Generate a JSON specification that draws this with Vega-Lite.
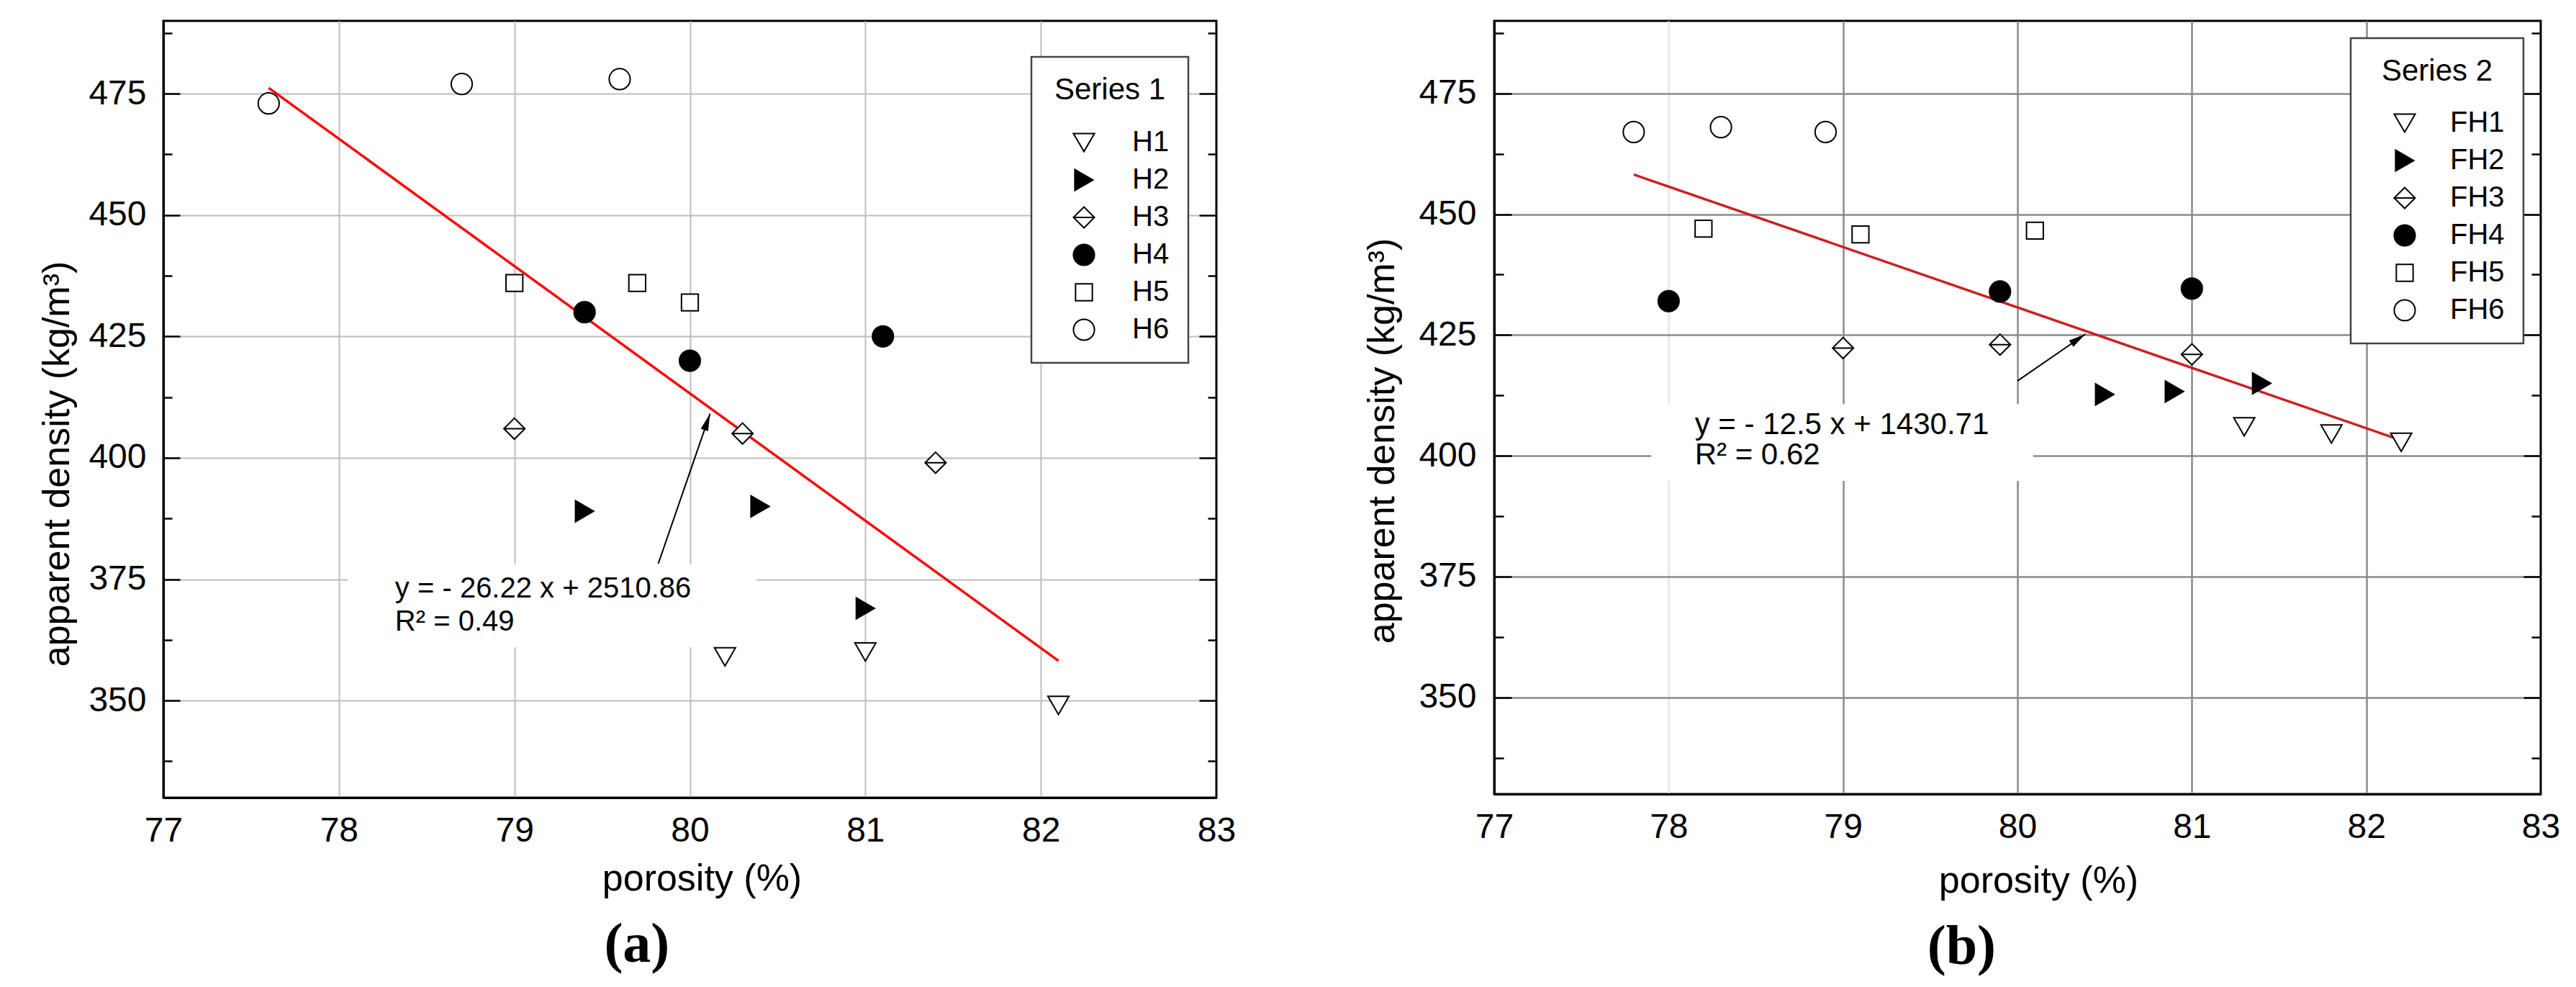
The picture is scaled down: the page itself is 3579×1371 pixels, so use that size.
{
  "$schema": "https://vega.github.io/schema/vega-lite/v6.json",
  "background": "white",
  "padding": {"left": 51, "top": 27, "right": 0, "bottom": 0},
  "bounds": "flush",
  "spacing": 386,
  "resolve": {"scale": {"shape": "independent", "fill": "independent", "stroke": "independent"}, "legend": {"shape": "independent", "fill": "independent", "stroke": "independent"}},
  "datasets": {
    "a_points": [
      {"series": "H1", "porosity": 80.2, "density": 359},
      {"series": "H1", "porosity": 81.0, "density": 360},
      {"series": "H1", "porosity": 82.1, "density": 349},
      {"series": "H2", "porosity": 79.4, "density": 389},
      {"series": "H2", "porosity": 80.4, "density": 390},
      {"series": "H2", "porosity": 81.0, "density": 369},
      {"series": "H3", "porosity": 79.0, "density": 406},
      {"series": "H3", "porosity": 80.3, "density": 405},
      {"series": "H3", "porosity": 81.4, "density": 399},
      {"series": "H4", "porosity": 79.4, "density": 430},
      {"series": "H4", "porosity": 80.0, "density": 420},
      {"series": "H4", "porosity": 81.1, "density": 425},
      {"series": "H5", "porosity": 79.0, "density": 436},
      {"series": "H5", "porosity": 79.7, "density": 436},
      {"series": "H5", "porosity": 80.0, "density": 432},
      {"series": "H6", "porosity": 77.6, "density": 473},
      {"series": "H6", "porosity": 78.7, "density": 477},
      {"series": "H6", "porosity": 79.6, "density": 478}
    ],
    "a_line": [
      {"porosity": 77.6, "density": 476.2},
      {"porosity": 82.1, "density": 358.2}
    ],
    "a_box": [{"x1": 78.05, "x2": 80.38, "y1": 361, "y2": 378}],
    "a_text": [
      {"x": 78.32, "y": 373, "t": "y = - 26.22 x + 2510.86"},
      {"x": 78.32, "y": 366.2, "t": "R² = 0.49"}
    ],
    "a_arrow": [{"x": 79.82, "y": 378.2, "x2": 80.115, "y2": 409.1}],
    "b_points": [
      {"series": "FH1", "porosity": 81.3, "density": 406},
      {"series": "FH1", "porosity": 81.8, "density": 404.5},
      {"series": "FH1", "porosity": 82.2, "density": 402.8},
      {"series": "FH2", "porosity": 80.5, "density": 412.7},
      {"series": "FH2", "porosity": 80.9, "density": 413.3},
      {"series": "FH2", "porosity": 81.4, "density": 415},
      {"series": "FH3", "porosity": 79.0, "density": 422.3},
      {"series": "FH3", "porosity": 79.9, "density": 423},
      {"series": "FH3", "porosity": 81.0, "density": 421},
      {"series": "FH4", "porosity": 78.0, "density": 432},
      {"series": "FH4", "porosity": 79.9, "density": 434},
      {"series": "FH4", "porosity": 81.0, "density": 434.6},
      {"series": "FH5", "porosity": 78.2, "density": 447},
      {"series": "FH5", "porosity": 79.1, "density": 445.8},
      {"series": "FH5", "porosity": 80.1, "density": 446.6},
      {"series": "FH6", "porosity": 77.8, "density": 467},
      {"series": "FH6", "porosity": 78.3, "density": 468},
      {"series": "FH6", "porosity": 78.9, "density": 467}
    ],
    "b_line": [
      {"porosity": 77.8, "density": 458.2},
      {"porosity": 82.2, "density": 403.2}
    ],
    "b_box": [{"x1": 77.9, "x2": 80.09, "y1": 394.8, "y2": 410.7}],
    "b_text": [
      {"x": 78.15, "y": 406.4, "t": "y = - 12.5 x + 1430.71"},
      {"x": 78.15, "y": 400.2, "t": "R² = 0.62"}
    ],
    "b_arrow": [{"x": 80.0, "y": 415.5, "x2": 80.39, "y2": 425.2}]
  },
  "hconcat": [
    {
      "width": 1463,
      "height": 1079,
      "title": {"text": "(a)", "orient": "bottom", "anchor": "middle", "frame": "bounds", "font": "Liberation Serif", "fontSize": 78, "fontWeight": "bold", "color": "black", "offset": 28},
      "resolve": {"axis": {"x": "independent", "y": "independent"}},
      "layer": [
        {
          "data": {"name": "a_box"},
          "mark": {"type": "rect", "fill": "white"},
          "encoding": {
            "x": {"field": "x1", "type": "quantitative", "scale": {"domain": [77, 83], "nice": false, "zero": false},
              "axis": {"orient": "bottom", "title": "porosity (%)", "values": [77, 78, 79, 80, 81, 82, 83], "ticks": false, "labelPadding": 22, "domain": true, "grid": true,
                "gridColor": {"condition": {"test": "datum.value < 77.5 || datum.value > 82.5", "value": "transparent"}, "value": "#bdbdbd"},
                "gridWidth": 2, "titleX": 748, "titleY": 87, "titleAlign": "center", "titleBaseline": "top"}},
            "x2": {"field": "x2"},
            "y": {"field": "y1", "type": "quantitative", "scale": {"domain": [330, 490], "nice": false, "zero": false},
              "axis": {"orient": "left", "title": "apparent density (kg/m³)", "values": [350, 375, 400, 425, 450, 475], "ticks": true, "tickSize": -23, "labelPadding": 47, "domain": true, "grid": true, "gridColor": "#bdbdbd", "gridWidth": 2,
                "titleX": -121, "titleY": 615, "titleAlign": "center", "titleAngle": -90, "titleBaseline": "bottom"}},
            "y2": {"field": "y2"}
          }
        },
        {
          "data": {"name": "a_line"},
          "mark": {"type": "line", "color": "#ff0000", "strokeWidth": 3.5},
          "encoding": {
            "x": {"field": "porosity", "type": "quantitative", "scale": {"domain": [77, 83], "nice": false, "zero": false}, "axis": null},
            "y": {"field": "density", "type": "quantitative", "scale": {"domain": [330, 490], "nice": false, "zero": false},
              "axis": {"orient": "left", "title": null, "values": [337.5, 362.5, 387.5, 412.5, 437.5, 462.5, 487.5], "labels": false, "grid": false, "domain": false, "ticks": true, "tickSize": -12}}
          }
        },
        {
          "data": {"name": "a_text"},
          "mark": {"type": "text", "align": "left", "baseline": "middle", "font": "Liberation Sans", "fontSize": 40, "color": "black"},
          "encoding": {
            "x": {"field": "x", "type": "quantitative", "scale": {"domain": [77, 83], "nice": false, "zero": false}, "axis": null},
            "y": {"field": "y", "type": "quantitative", "scale": {"domain": [330, 490], "nice": false, "zero": false},
              "axis": {"orient": "right", "title": null, "values": [350, 375, 400, 425, 450, 475], "labels": false, "grid": false, "domain": false, "ticks": true, "tickSize": -24}},
            "text": {"field": "t"}
          }
        },
        {
          "data": {"name": "a_arrow"},
          "mark": {"type": "rule", "color": "black", "strokeWidth": 2},
          "encoding": {
            "x": {"field": "x", "type": "quantitative", "scale": {"domain": [77, 83], "nice": false, "zero": false}, "axis": null},
            "x2": {"field": "x2"},
            "y": {"field": "y", "type": "quantitative", "scale": {"domain": [330, 490], "nice": false, "zero": false},
              "axis": {"orient": "right", "title": null, "values": [337.5, 362.5, 387.5, 412.5, 437.5, 462.5, 487.5], "labels": false, "grid": false, "domain": false, "ticks": true, "tickSize": -12}},
            "y2": {"field": "y2"}
          }
        },
        {
          "data": {"name": "a_arrow"},
          "mark": {"type": "point", "shape": "M0,0L0.45,2L-0.45,2Z", "filled": true, "color": "black", "size": 576, "angle": 19, "opacity": 1},
          "encoding": {
            "x": {"field": "x2", "type": "quantitative", "scale": {"domain": [77, 83], "nice": false, "zero": false}, "axis": null},
            "y": {"field": "y2", "type": "quantitative", "scale": {"domain": [330, 490], "nice": false, "zero": false}, "axis": null}
          }
        },
        {
          "data": {"name": "a_points"},
          "mark": {"type": "point", "strokeWidth": 2, "size": 850, "opacity": 1},
          "encoding": {
            "x": {"field": "porosity", "type": "quantitative", "scale": {"domain": [77, 83], "nice": false, "zero": false}, "axis": null},
            "y": {"field": "density", "type": "quantitative", "scale": {"domain": [330, 490], "nice": false, "zero": false}, "axis": null},
            "shape": {"field": "series", "type": "nominal",
              "scale": {"domain": ["H1", "H2", "H3", "H4", "H5", "H6"], "range": ["triangle-down", "triangle-right", "M0,-1L1,0L0,1L-1,0Z M-1,0L1,0", "circle", "M-0.8,-0.8H0.8V0.8H-0.8Z", "circle"]},
              "legend": {"title": "Series 1", "orient": "none", "legendX": 1206, "legendY": 50, "padding": 26, "symbolOffset": 27, "labelOffset": 47, "titlePadding": 31, "rowPadding": 12}},
            "fill": {"field": "series", "type": "nominal",
              "scale": {"domain": ["H1", "H2", "H3", "H4", "H5", "H6"], "range": ["white", "black", "white", "black", "white", "white"]},
              "legend": {"title": "Series 1", "orient": "none", "legendX": 1206, "legendY": 50, "padding": 26, "symbolOffset": 27, "labelOffset": 47, "titlePadding": 31, "rowPadding": 12}},
            "stroke": {"field": "series", "type": "nominal",
              "scale": {"domain": ["H1", "H2", "H3", "H4", "H5", "H6"], "range": ["black", "black", "black", "black", "black", "black"]},
              "legend": {"title": "Series 1", "orient": "none", "legendX": 1206, "legendY": 50, "padding": 26, "symbolOffset": 27, "labelOffset": 47, "titlePadding": 31, "rowPadding": 12}}
          }
        }
      ]
    },
    {
      "width": 1454,
      "height": 1074,
      "title": {"text": "(b)", "orient": "bottom", "anchor": "middle", "frame": "bounds", "font": "Liberation Serif", "fontSize": 78, "fontWeight": "bold", "color": "black", "offset": 28},
      "resolve": {"axis": {"x": "independent", "y": "independent"}},
      "layer": [
        {
          "data": {"name": "b_box"},
          "mark": {"type": "rect", "fill": "white"},
          "encoding": {
            "x": {"field": "x1", "type": "quantitative", "scale": {"domain": [77, 83], "nice": false, "zero": false},
              "axis": {"orient": "bottom", "title": "porosity (%)", "values": [77, 78, 79, 80, 81, 82, 83], "ticks": false, "labelPadding": 22, "domain": true, "grid": true,
                "gridColor": {"condition": [{"test": "datum.value < 77.5 || datum.value > 82.5", "value": "transparent"}, {"test": "datum.value == 78", "value": "#e4e4e4"}], "value": "#8a8a8a"},
                "gridWidth": 2.5, "titleX": 756, "titleY": 95, "titleAlign": "center", "titleBaseline": "top"}},
            "x2": {"field": "x2"},
            "y": {"field": "y1", "type": "quantitative", "scale": {"domain": [330, 490], "nice": false, "zero": false},
              "axis": {"orient": "left", "title": "apparent density (kg/m³)", "values": [350, 375, 400, 425, 450, 475], "ticks": true, "tickSize": -24, "labelPadding": 49, "domain": true, "grid": true, "gridColor": "#8a8a8a", "gridWidth": 2.5,
                "titleX": -129, "titleY": 583, "titleAlign": "center", "titleAngle": -90, "titleBaseline": "bottom"}},
            "y2": {"field": "y2"}
          }
        },
        {
          "data": {"name": "b_line"},
          "mark": {"type": "line", "color": "#cc2020", "strokeWidth": 3.5},
          "encoding": {
            "x": {"field": "porosity", "type": "quantitative", "scale": {"domain": [77, 83], "nice": false, "zero": false}, "axis": null},
            "y": {"field": "density", "type": "quantitative", "scale": {"domain": [330, 490], "nice": false, "zero": false},
              "axis": {"orient": "left", "title": null, "values": [337.5, 362.5, 387.5, 412.5, 437.5, 462.5, 487.5], "labels": false, "grid": false, "domain": false, "ticks": true, "tickSize": -13}}
          }
        },
        {
          "data": {"name": "b_text"},
          "mark": {"type": "text", "align": "left", "baseline": "middle", "font": "Liberation Sans", "fontSize": 42, "color": "black"},
          "encoding": {
            "x": {"field": "x", "type": "quantitative", "scale": {"domain": [77, 83], "nice": false, "zero": false}, "axis": null},
            "y": {"field": "y", "type": "quantitative", "scale": {"domain": [330, 490], "nice": false, "zero": false},
              "axis": {"orient": "right", "title": null, "values": [350, 375, 400, 425, 450, 475], "labels": false, "grid": false, "domain": false, "ticks": true, "tickSize": -24}},
            "text": {"field": "t"}
          }
        },
        {
          "data": {"name": "b_arrow"},
          "mark": {"type": "rule", "color": "black", "strokeWidth": 2},
          "encoding": {
            "x": {"field": "x", "type": "quantitative", "scale": {"domain": [77, 83], "nice": false, "zero": false}, "axis": null},
            "x2": {"field": "x2"},
            "y": {"field": "y", "type": "quantitative", "scale": {"domain": [330, 490], "nice": false, "zero": false},
              "axis": {"orient": "right", "title": null, "values": [337.5, 362.5, 387.5, 412.5, 437.5, 462.5, 487.5], "labels": false, "grid": false, "domain": false, "ticks": true, "tickSize": -13}},
            "y2": {"field": "y2"}
          }
        },
        {
          "data": {"name": "b_arrow"},
          "mark": {"type": "point", "shape": "M0,0L0.45,2L-0.45,2Z", "filled": true, "color": "black", "size": 576, "angle": 56, "opacity": 1},
          "encoding": {
            "x": {"field": "x2", "type": "quantitative", "scale": {"domain": [77, 83], "nice": false, "zero": false}, "axis": null},
            "y": {"field": "y2", "type": "quantitative", "scale": {"domain": [330, 490], "nice": false, "zero": false}, "axis": null}
          }
        },
        {
          "data": {"name": "b_points"},
          "mark": {"type": "point", "strokeWidth": 2, "size": 850, "opacity": 1},
          "encoding": {
            "x": {"field": "porosity", "type": "quantitative", "scale": {"domain": [77, 83], "nice": false, "zero": false}, "axis": null},
            "y": {"field": "density", "type": "quantitative", "scale": {"domain": [330, 490], "nice": false, "zero": false}, "axis": null},
            "shape": {"field": "series", "type": "nominal",
              "scale": {"domain": ["FH1", "FH2", "FH3", "FH4", "FH5", "FH6"], "range": ["triangle-down", "triangle-right", "M0,-1L1,0L0,1L-1,0Z M-1,0L1,0", "circle", "M-0.8,-0.8H0.8V0.8H-0.8Z", "circle"]},
              "legend": {"title": "Series 2", "orient": "none", "legendX": 1190, "legendY": 24, "padding": 26, "symbolOffset": 29, "labelOffset": 43, "titlePadding": 30, "rowPadding": 12}},
            "fill": {"field": "series", "type": "nominal",
              "scale": {"domain": ["FH1", "FH2", "FH3", "FH4", "FH5", "FH6"], "range": ["white", "black", "white", "black", "white", "white"]},
              "legend": {"title": "Series 2", "orient": "none", "legendX": 1190, "legendY": 24, "padding": 26, "symbolOffset": 29, "labelOffset": 43, "titlePadding": 30, "rowPadding": 12}},
            "stroke": {"field": "series", "type": "nominal",
              "scale": {"domain": ["FH1", "FH2", "FH3", "FH4", "FH5", "FH6"], "range": ["black", "black", "black", "black", "black", "black"]},
              "legend": {"title": "Series 2", "orient": "none", "legendX": 1190, "legendY": 24, "padding": 26, "symbolOffset": 29, "labelOffset": 43, "titlePadding": 30, "rowPadding": 12}}
          }
        }
      ]
    }
  ],
  "config": {
    "view": {"stroke": "black", "strokeWidth": 3},
    "axis": {
      "labelFont": "Liberation Sans", "labelFontSize": 48, "labelColor": "black", "labelFlush": false, "labelOverlap": false,
      "titleFont": "Liberation Sans", "titleFontSize": 52, "titleFontWeight": "normal", "titleColor": "black",
      "tickColor": "black", "tickWidth": 2.5, "domainColor": "black", "domainWidth": 3
    },
    "legend": {
      "strokeColor": "#444444", "strokeWidth": 2.5, "fillColor": "white", "cornerRadius": 0,
      "titleFont": "Liberation Sans", "titleFontSize": 42, "titleFontWeight": "normal", "titleColor": "black", "titleAnchor": "middle", "titleLimit": 400,
      "labelFont": "Liberation Sans", "labelFontSize": 40, "labelColor": "black",
      "symbolSize": 850, "symbolStrokeWidth": 2
    }
  }
}
